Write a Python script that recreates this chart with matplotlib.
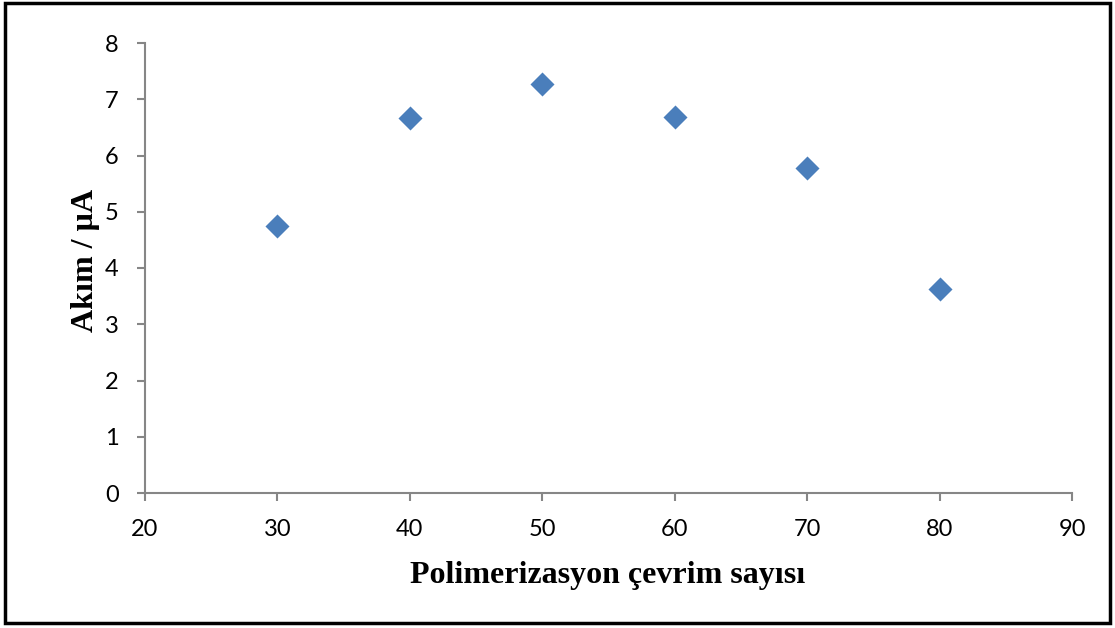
import matplotlib
matplotlib.use("Agg")
import matplotlib.pyplot as plt
from matplotlib.patches import Rectangle

# polymerization cycles vs peak current
cycles = [30, 40, 50, 60, 70, 80]
current = [4.75, 6.67, 7.27, 6.68, 5.78, 3.63]

xticks = [20, 30, 40, 50, 60, 70, 80, 90]
yticks = [0, 1, 2, 3, 4, 5, 6, 7, 8]

W, H = 1115, 628
fig = plt.figure(figsize=(W / 100, H / 100), dpi=100)
ax = fig.add_axes([145 / W, 1 - 493 / H, (1072 - 145) / W, (493 - 43) / H])

ax.scatter(cycles, current, marker="D", s=150, color="#4a7ebb", zorder=3, linewidths=0)

ax.set_xlim(20, 90)
ax.set_ylim(0, 8)
ax.set_xticks(xticks)
ax.set_yticks(yticks)

for side in ["top", "right"]:
    ax.spines[side].set_visible(False)
for side in ["left", "bottom"]:
    ax.spines[side].set_color("#868686")
    ax.spines[side].set_linewidth(1.5)

ax.tick_params(axis="both", direction="out", length=6, width=1.5, color="#868686",
               labelsize=17, labelcolor="black")
ax.tick_params(axis="x", pad=13)
ax.tick_params(axis="y", pad=13)
for lbl in ax.get_xticklabels() + ax.get_yticklabels():
    lbl.set_fontfamily("Lato")

# axis titles, bold serif
fig.text(608 / W, 1 - 583 / H, "Polimerizasyon çevrim sayısı", fontfamily="Liberation Serif",
         fontweight="bold", fontsize=23, ha="center", va="baseline")
fig.text(93 / W, 1 - 260 / H, "Akım / µA", fontfamily="Liberation Serif",
         fontweight="bold", fontsize=23, ha="center", va="baseline", rotation=90,
         rotation_mode="anchor")

# outer frame around the whole chart
fig.patches.append(Rectangle((5 / W, 1 - 623 / H), (1110 - 5) / W, (623 - 3) / H,
                             transform=fig.transFigure, fill=False,
                             edgecolor="black", linewidth=2.5))

fig.savefig("out.png", dpi=100)
